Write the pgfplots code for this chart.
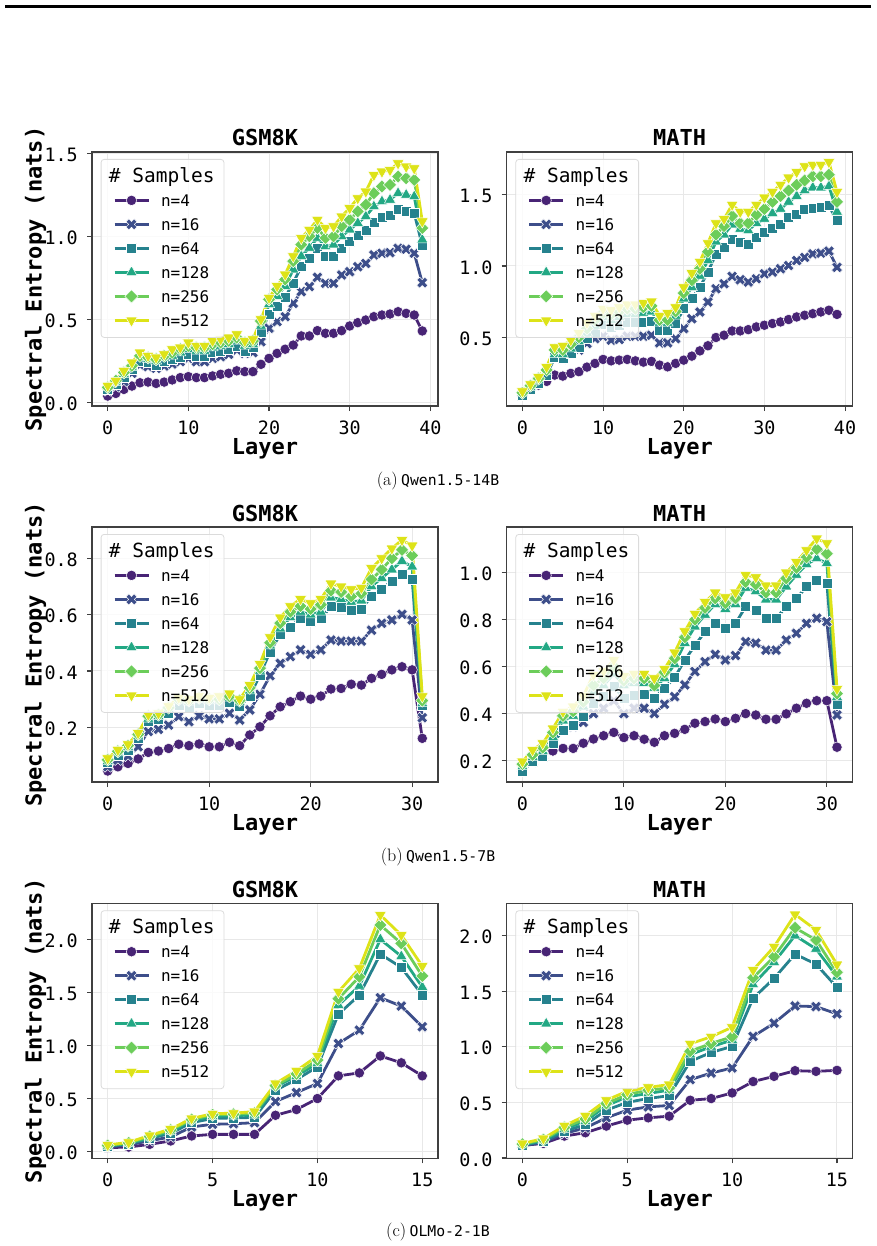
\documentclass[border=0pt]{standalone}
\usepackage{fontspec}
\usepackage{pgfplots}
\usepackage{pgfplotstable}
\pgfplotsset{compat=1.18}
\newfontfamily\dvm{DejaVu Sans Mono}

% viridis samples for the six sample budgets
\definecolor{c4}{HTML}{482475}
\definecolor{c16}{HTML}{3D4E8A}
\definecolor{c64}{HTML}{26828E}
\definecolor{c128}{HTML}{22A884}
\definecolor{c256}{HTML}{6CCD5A}
\definecolor{c512}{HTML}{DDE318}

% filled "X" marker
\pgfdeclareplotmark{Xfill}{%
  \pgftransformrotate{45}%
  \pgfpathmoveto{\pgfqpoint{0.34\pgfplotmarksize}{\pgfplotmarksize}}%
  \pgfpathlineto{\pgfqpoint{0.34\pgfplotmarksize}{0.34\pgfplotmarksize}}%
  \pgfpathlineto{\pgfqpoint{\pgfplotmarksize}{0.34\pgfplotmarksize}}%
  \pgfpathlineto{\pgfqpoint{\pgfplotmarksize}{-0.34\pgfplotmarksize}}%
  \pgfpathlineto{\pgfqpoint{0.34\pgfplotmarksize}{-0.34\pgfplotmarksize}}%
  \pgfpathlineto{\pgfqpoint{0.34\pgfplotmarksize}{-\pgfplotmarksize}}%
  \pgfpathlineto{\pgfqpoint{-0.34\pgfplotmarksize}{-\pgfplotmarksize}}%
  \pgfpathlineto{\pgfqpoint{-0.34\pgfplotmarksize}{-0.34\pgfplotmarksize}}%
  \pgfpathlineto{\pgfqpoint{-\pgfplotmarksize}{-0.34\pgfplotmarksize}}%
  \pgfpathlineto{\pgfqpoint{-\pgfplotmarksize}{0.34\pgfplotmarksize}}%
  \pgfpathlineto{\pgfqpoint{-0.34\pgfplotmarksize}{0.34\pgfplotmarksize}}%
  \pgfpathlineto{\pgfqpoint{-0.34\pgfplotmarksize}{\pgfplotmarksize}}%
  \pgfpathclose
  \pgfusepathqfillstroke}
% square rotated by 45 degrees
\pgfdeclareplotmark{Dfill}{%
  \pgfpathmoveto{\pgfqpoint{0pt}{\pgfplotmarksize}}%
  \pgfpathlineto{\pgfqpoint{\pgfplotmarksize}{0pt}}%
  \pgfpathlineto{\pgfqpoint{0pt}{-\pgfplotmarksize}}%
  \pgfpathlineto{\pgfqpoint{-\pgfplotmarksize}{0pt}}%
  \pgfpathclose
  \pgfusepathqfillstroke}
% downward triangle
\pgfdeclareplotmark{Vfill}{%
  \pgfpathmoveto{\pgfqpoint{0pt}{-\pgfplotmarksize}}%
  \pgfpathlineto{\pgfqpoint{0.866\pgfplotmarksize}{0.5\pgfplotmarksize}}%
  \pgfpathlineto{\pgfqpoint{-0.866\pgfplotmarksize}{0.5\pgfplotmarksize}}%
  \pgfpathclose
  \pgfusepathqfillstroke}

% Qwen1.5-14B, GSM8K
\pgfplotstableread{
L n4 n16 n64 n128 n256 n512
0 0.038 0.070 0.080 0.090 0.090 0.100
1 0.054 0.094 0.110 0.120 0.130 0.130
2 0.078 0.125 0.150 0.170 0.180 0.190
3 0.098 0.175 0.200 0.210 0.220 0.240
4 0.118 0.225 0.245 0.270 0.280 0.300
5 0.122 0.215 0.240 0.260 0.270 0.280
6 0.114 0.205 0.225 0.250 0.260 0.270
7 0.122 0.219 0.245 0.270 0.280 0.290
8 0.135 0.231 0.260 0.280 0.300 0.320
9 0.149 0.245 0.270 0.300 0.320 0.330
10 0.155 0.265 0.290 0.320 0.340 0.360
11 0.149 0.245 0.280 0.310 0.330 0.340
12 0.149 0.245 0.280 0.310 0.330 0.340
13 0.159 0.265 0.300 0.330 0.350 0.370
14 0.169 0.275 0.310 0.340 0.360 0.380
15 0.175 0.289 0.320 0.350 0.370 0.390
16 0.190 0.315 0.340 0.370 0.390 0.410
17 0.185 0.295 0.310 0.340 0.360 0.370
18 0.185 0.300 0.330 0.350 0.370 0.380
19 0.229 0.365 0.420 0.460 0.490 0.500
20 0.265 0.446 0.530 0.590 0.620 0.630
21 0.295 0.486 0.580 0.640 0.680 0.700
22 0.320 0.516 0.633 0.700 0.740 0.770
23 0.345 0.596 0.720 0.800 0.850 0.880
24 0.400 0.667 0.817 0.880 0.950 0.990
25 0.400 0.697 0.867 0.930 1.000 1.040
26 0.432 0.753 0.930 0.990 1.050 1.100
27 0.416 0.717 0.880 0.940 0.990 1.050
28 0.416 0.717 0.880 0.950 1.000 1.060
29 0.432 0.767 0.930 1.000 1.060 1.120
30 0.460 0.787 0.968 1.040 1.100 1.170
31 0.480 0.817 1.008 1.080 1.150 1.230
32 0.496 0.837 1.038 1.120 1.190 1.270
33 0.516 0.888 1.082 1.180 1.260 1.370
34 0.526 0.898 1.112 1.210 1.300 1.390
35 0.532 0.902 1.124 1.220 1.310 1.400
36 0.546 0.928 1.163 1.260 1.360 1.440
37 0.536 0.922 1.153 1.250 1.350 1.420
38 0.526 0.898 1.140 1.240 1.340 1.410
39 0.430 0.721 0.944 0.980 1.050 1.090
}\tA

% Qwen1.5-14B, MATH
\pgfplotstableread{
L n4 n16 n64 n128 n256 n512
0 0.100 0.095 0.090 0.110 0.110 0.120
1 0.134 0.140 0.135 0.150 0.160 0.170
2 0.164 0.190 0.176 0.200 0.210 0.220
3 0.190 0.246 0.234 0.260 0.270 0.290
4 0.234 0.360 0.358 0.380 0.410 0.430
5 0.227 0.350 0.350 0.380 0.410 0.440
6 0.246 0.386 0.386 0.420 0.450 0.480
7 0.258 0.410 0.430 0.470 0.500 0.530
8 0.290 0.456 0.490 0.530 0.560 0.600
9 0.316 0.490 0.537 0.580 0.620 0.650
10 0.344 0.507 0.590 0.640 0.670 0.700
11 0.334 0.479 0.572 0.620 0.660 0.690
12 0.339 0.484 0.584 0.640 0.680 0.710
13 0.344 0.507 0.607 0.660 0.700 0.730
14 0.334 0.507 0.607 0.660 0.700 0.730
15 0.325 0.507 0.607 0.670 0.710 0.740
16 0.330 0.514 0.614 0.680 0.720 0.750
17 0.304 0.460 0.550 0.600 0.620 0.650
18 0.292 0.460 0.550 0.600 0.620 0.670
19 0.316 0.490 0.595 0.650 0.680 0.710
20 0.339 0.560 0.700 0.770 0.810 0.850
21 0.367 0.630 0.770 0.850 0.900 0.950
22 0.404 0.677 0.852 0.930 0.980 1.030
23 0.440 0.747 0.957 1.040 1.100 1.160
24 0.498 0.840 1.085 1.170 1.220 1.300
25 0.514 0.875 1.130 1.220 1.280 1.330
26 0.544 0.927 1.190 1.290 1.350 1.430
27 0.544 0.903 1.167 1.260 1.300 1.380
28 0.553 0.887 1.150 1.250 1.300 1.380
29 0.572 0.910 1.200 1.300 1.360 1.430
30 0.584 0.945 1.236 1.330 1.400 1.480
31 0.596 0.957 1.267 1.370 1.450 1.520
32 0.607 0.980 1.295 1.400 1.490 1.570
33 0.624 1.003 1.340 1.450 1.530 1.620
34 0.642 1.038 1.365 1.490 1.570 1.660
35 0.654 1.060 1.400 1.530 1.600 1.700
36 0.665 1.085 1.407 1.550 1.630 1.710
37 0.677 1.090 1.410 1.550 1.630 1.710
38 0.689 1.104 1.423 1.560 1.640 1.730
39 0.660 0.990 1.318 1.380 1.450 1.520
}\tB

% Qwen1.5-7B, GSM8K
\pgfplotstableread{
L n4 n16 n64 n128 n256 n512
0 0.045 0.060 0.075 0.080 0.085 0.090
1 0.060 0.084 0.100 0.110 0.115 0.120
2 0.072 0.098 0.120 0.130 0.135 0.140
3 0.088 0.131 0.160 0.170 0.175 0.180
4 0.111 0.185 0.220 0.230 0.240 0.245
5 0.116 0.193 0.230 0.240 0.245 0.250
6 0.125 0.208 0.250 0.265 0.270 0.275
7 0.140 0.238 0.280 0.295 0.300 0.305
8 0.135 0.220 0.270 0.290 0.295 0.300
9 0.141 0.241 0.285 0.300 0.305 0.310
10 0.131 0.230 0.280 0.295 0.300 0.305
11 0.131 0.230 0.280 0.295 0.300 0.310
12 0.147 0.250 0.290 0.305 0.310 0.320
13 0.135 0.226 0.275 0.290 0.295 0.300
14 0.173 0.262 0.310 0.330 0.340 0.350
15 0.202 0.317 0.386 0.400 0.410 0.425
16 0.241 0.383 0.468 0.490 0.500 0.520
17 0.273 0.427 0.530 0.550 0.570 0.590
18 0.291 0.451 0.557 0.590 0.610 0.630
19 0.311 0.475 0.587 0.610 0.630 0.655
20 0.300 0.459 0.575 0.600 0.620 0.640
21 0.311 0.475 0.587 0.610 0.635 0.655
22 0.336 0.510 0.628 0.660 0.685 0.710
23 0.338 0.506 0.625 0.655 0.680 0.700
24 0.353 0.506 0.615 0.645 0.665 0.690
25 0.350 0.506 0.620 0.650 0.675 0.695
26 0.374 0.545 0.665 0.700 0.725 0.765
27 0.388 0.569 0.690 0.730 0.760 0.800
28 0.404 0.581 0.720 0.760 0.800 0.835
29 0.415 0.601 0.743 0.790 0.830 0.865
30 0.404 0.581 0.725 0.770 0.810 0.845
31 0.161 0.234 0.277 0.285 0.295 0.310
}\tC

% Qwen1.5-7B, MATH
\pgfplotstableread{
L n4 n16 n64 n128 n256 n512
0 0.184 0.165 0.156 0.175 0.185 0.196
1 0.210 0.196 0.196 0.215 0.225 0.245
2 0.231 0.221 0.217 0.240 0.255 0.274
3 0.241 0.280 0.274 0.300 0.320 0.337
4 0.252 0.330 0.330 0.370 0.390 0.408
5 0.252 0.345 0.352 0.390 0.410 0.430
6 0.274 0.363 0.387 0.430 0.450 0.475
7 0.292 0.400 0.444 0.490 0.520 0.565
8 0.306 0.423 0.472 0.520 0.550 0.580
9 0.320 0.454 0.515 0.570 0.600 0.628
10 0.298 0.400 0.465 0.520 0.540 0.560
11 0.306 0.423 0.479 0.530 0.550 0.570
12 0.291 0.423 0.482 0.530 0.550 0.570
13 0.278 0.400 0.465 0.510 0.520 0.550
14 0.306 0.440 0.510 0.550 0.575 0.590
15 0.316 0.472 0.553 0.610 0.635 0.660
16 0.333 0.522 0.628 0.700 0.725 0.750
17 0.359 0.579 0.690 0.770 0.800 0.825
18 0.366 0.621 0.749 0.820 0.850 0.875
19 0.377 0.652 0.784 0.865 0.890 0.915
20 0.366 0.628 0.763 0.845 0.870 0.895
21 0.380 0.647 0.784 0.865 0.890 0.915
22 0.400 0.706 0.855 0.935 0.960 0.990
23 0.394 0.700 0.841 0.920 0.950 0.980
24 0.376 0.670 0.806 0.885 0.915 0.945
25 0.376 0.670 0.806 0.885 0.915 0.945
26 0.399 0.713 0.855 0.940 0.975 1.000
27 0.423 0.742 0.890 0.990 1.020 1.045
28 0.444 0.784 0.940 1.035 1.065 1.095
29 0.455 0.806 0.969 1.060 1.100 1.145
30 0.455 0.791 0.955 1.040 1.080 1.125
31 0.257 0.394 0.440 0.470 0.485 0.505
}\tD

% OLMo-2-1B, GSM8K
\pgfplotstableread{
L n4 n16 n64 n128 n256 n512
0 0.035 0.040 0.050 0.050 0.055 0.060
1 0.040 0.060 0.070 0.075 0.080 0.085
2 0.066 0.100 0.120 0.130 0.140 0.150
3 0.098 0.135 0.170 0.190 0.200 0.210
4 0.145 0.230 0.270 0.290 0.300 0.310
5 0.160 0.255 0.310 0.330 0.345 0.355
6 0.160 0.260 0.315 0.335 0.350 0.360
7 0.160 0.270 0.320 0.345 0.360 0.375
8 0.340 0.470 0.576 0.610 0.620 0.640
9 0.394 0.554 0.677 0.710 0.730 0.760
10 0.498 0.640 0.797 0.830 0.860 0.900
11 0.712 1.017 1.294 1.380 1.440 1.505
12 0.740 1.143 1.474 1.560 1.647 1.726
13 0.900 1.449 1.861 2.000 2.135 2.230
14 0.835 1.370 1.735 1.840 1.962 2.040
15 0.712 1.175 1.474 1.550 1.654 1.748
}\tE

% OLMo-2-1B, MATH
\pgfplotstableread{
L n4 n16 n64 n128 n256 n512
0 0.113 0.110 0.115 0.120 0.125 0.130
1 0.131 0.140 0.150 0.160 0.165 0.175
2 0.197 0.220 0.240 0.260 0.275 0.290
3 0.227 0.270 0.300 0.330 0.350 0.380
4 0.287 0.361 0.430 0.470 0.490 0.520
5 0.340 0.430 0.500 0.550 0.570 0.600
6 0.361 0.460 0.535 0.580 0.610 0.635
7 0.376 0.472 0.560 0.610 0.630 0.660
8 0.519 0.704 0.869 0.930 0.960 1.027
9 0.534 0.764 0.949 1.000 1.030 1.090
10 0.585 0.809 1.003 1.060 1.090 1.176
11 0.687 1.093 1.436 1.560 1.620 1.690
12 0.734 1.212 1.615 1.760 1.810 1.900
13 0.785 1.367 1.833 2.000 2.070 2.190
14 0.779 1.361 1.743 1.880 1.960 2.050
15 0.788 1.296 1.534 1.630 1.670 1.740
}\tF

\newcommand\legtitle{\makebox[50.9pt][l]{\hspace*{-52.1pt}\fontsize{19.5}{22}\selectfont\# Samples}}
\newcommand\subcap[2]{{\fontsize{18}{20}\selectfont (#1)}~{\dvm\fontsize{14.8}{20}\selectfont #2}}

\pgfplotsset{
  ser/.style={line width=2.8pt, line join=round,
    mark options={solid, draw=white, line width=0.5pt}},
  s4/.style={ser, color=c4, mark=*, mark size=5.2pt},
  s16/.style={ser, color=c16, mark=Xfill, mark size=5.8pt},
  s64/.style={ser, color=c64, mark=square*, mark size=5pt},
  s128/.style={ser, color=c128, mark=triangle*, mark size=6.5pt},
  s256/.style={ser, color=c256, mark=Dfill, mark size=6.6pt},
  s512/.style={ser, color=c512, mark=Vfill, mark size=6.8pt},
  panel/.style={
    scale only axis, width=346pt, anchor=north west,
    axis line style={black!75, line width=1.2pt},
    tick style={black!75, line width=1.1pt},
    tick align=outside, major tick length=5pt,
    tick pos=left,
    grid=major, major grid style={black!9, line width=1pt},
    tick label style={font=\dvm\fontsize{18.4}{20}\selectfont},
    /pgf/number format/assume math mode=true,
    xticklabel style={anchor=base, yshift=-23.3pt},
    yticklabel style={anchor=east, inner sep=0pt, xshift=-9pt, yshift=-1.5pt,
      /pgf/number format/.cd, fixed, fixed zerofill, precision=1},
    title style={font=\dvm\bfseries\fontsize{22}{24}\selectfont,
      at={(axis description cs:0.5,1)}, anchor=base, yshift=0pt},
    xlabel=Layer,
    xlabel style={font=\dvm\bfseries\fontsize{22}{24}\selectfont,
      at={(axis description cs:0.5,0)}, anchor=base, yshift=-48pt},
    ylabel style={font=\dvm\bfseries\fontsize{22}{24}\selectfont,
      at={(axis description cs:-0.1454,0.5)}, anchor=base},
    legend cell align=left,
    legend style={at={(axis description cs:0,1)}, anchor=north west,
      xshift=8.7pt, yshift=-7pt,
      draw=black!14, line width=0.8pt, rounded corners=3pt,
      fill=white, fill opacity=0.8, text opacity=1,
      font=\dvm\fontsize{16}{18}\selectfont,
      inner xsep=12pt, inner ysep=5pt,
      row sep=0pt, column sep=11.1pt,
      nodes={inner sep=0pt, text height=18pt, text depth=6pt}},
    legend image post style={opacity=1},
    legend image code/.code={%
      \draw[mark repeat=2, mark phase=2, ##1]
        plot coordinates {(0pt,0pt) (17pt,0pt) (34pt,0pt)};},
  },
}

\newcommand\allseries[1]{%
  \addlegendimage{empty legend}\addlegendentry{\legtitle}
  \addplot[s4]   table[x=L, y=n4]   {#1}; \addlegendentry{n=4}
  \addplot[s16]  table[x=L, y=n16]  {#1}; \addlegendentry{n=16}
  \addplot[s64]  table[x=L, y=n64]  {#1}; \addlegendentry{n=64}
  \addplot[s128] table[x=L, y=n128] {#1}; \addlegendentry{n=128}
  \addplot[s256] table[x=L, y=n256] {#1}; \addlegendentry{n=256}
  \addplot[s512] table[x=L, y=n512] {#1}; \addlegendentry{n=512}
}

\begin{document}
\begin{tikzpicture}
\useasboundingbox (0,0) rectangle (876pt,-1246pt);
\fill (5pt,-5.5pt) rectangle (871pt,-8.5pt);

% (a) Qwen1.5-14B
\begin{axis}[panel, at={(92pt,-152pt)}, height=254pt,
  title=GSM8K, ylabel={Spectral Entropy (nats)},
  xmin=-1.95, xmax=40.95, ymin=-0.022, ymax=1.508,
  xtick={0,10,20,30,40}, ytick={0,0.5,1,1.5}]
\allseries{\tA}
\end{axis}
\begin{axis}[panel, at={(506.7pt,-152pt)}, height=254pt,
  title=MATH,
  xmin=-1.95, xmax=40.95, ymin=0.017, ymax=1.80,
  xtick={0,10,20,30,40}, ytick={0.5,1,1.5}]
\allseries{\tB}
\end{axis}
\node[anchor=base] at (438pt,-485.5pt) {\subcap{a}{Qwen1.5-14B}};

% (b) Qwen1.5-7B
\begin{axis}[panel, at={(92pt,-527pt)}, height=255pt,
  title=GSM8K, ylabel={Spectral Entropy (nats)},
  xmin=-1.55, xmax=32.55, ymin=0.006, ymax=0.911,
  xtick={0,10,20,30}, ytick={0.2,0.4,0.6,0.8}]
\allseries{\tC}
\end{axis}
\begin{axis}[panel, at={(506.7pt,-527pt)}, height=255pt,
  title=MATH,
  xmin=-1.55, xmax=32.55, ymin=0.109, ymax=1.194,
  xtick={0,10,20,30}, ytick={0.2,0.4,0.6,0.8,1.0}]
\allseries{\tD}
\end{axis}
\node[anchor=base] at (438pt,-861pt) {\subcap{b}{Qwen1.5-7B}};

% (c) OLMo-2-1B
\begin{axis}[panel, at={(92pt,-903.3pt)}, height=255pt,
  title=GSM8K, ylabel={Spectral Entropy (nats)},
  xmin=-0.75, xmax=15.75, ymin=-0.066, ymax=2.34,
  xtick={0,5,10,15}, ytick={0,0.5,1,1.5,2}]
\allseries{\tE}
\end{axis}
\begin{axis}[panel, at={(506.7pt,-903.3pt)}, height=255pt,
  title=MATH,
  xmin=-0.75, xmax=15.75, ymin=-0.003, ymax=2.29,
  xtick={0,5,10,15}, ytick={0,0.5,1,1.5,2}]
\allseries{\tF}
\end{axis}
\node[anchor=base] at (438pt,-1236.5pt) {\subcap{c}{OLMo-2-1B}};
\end{tikzpicture}
\end{document}
